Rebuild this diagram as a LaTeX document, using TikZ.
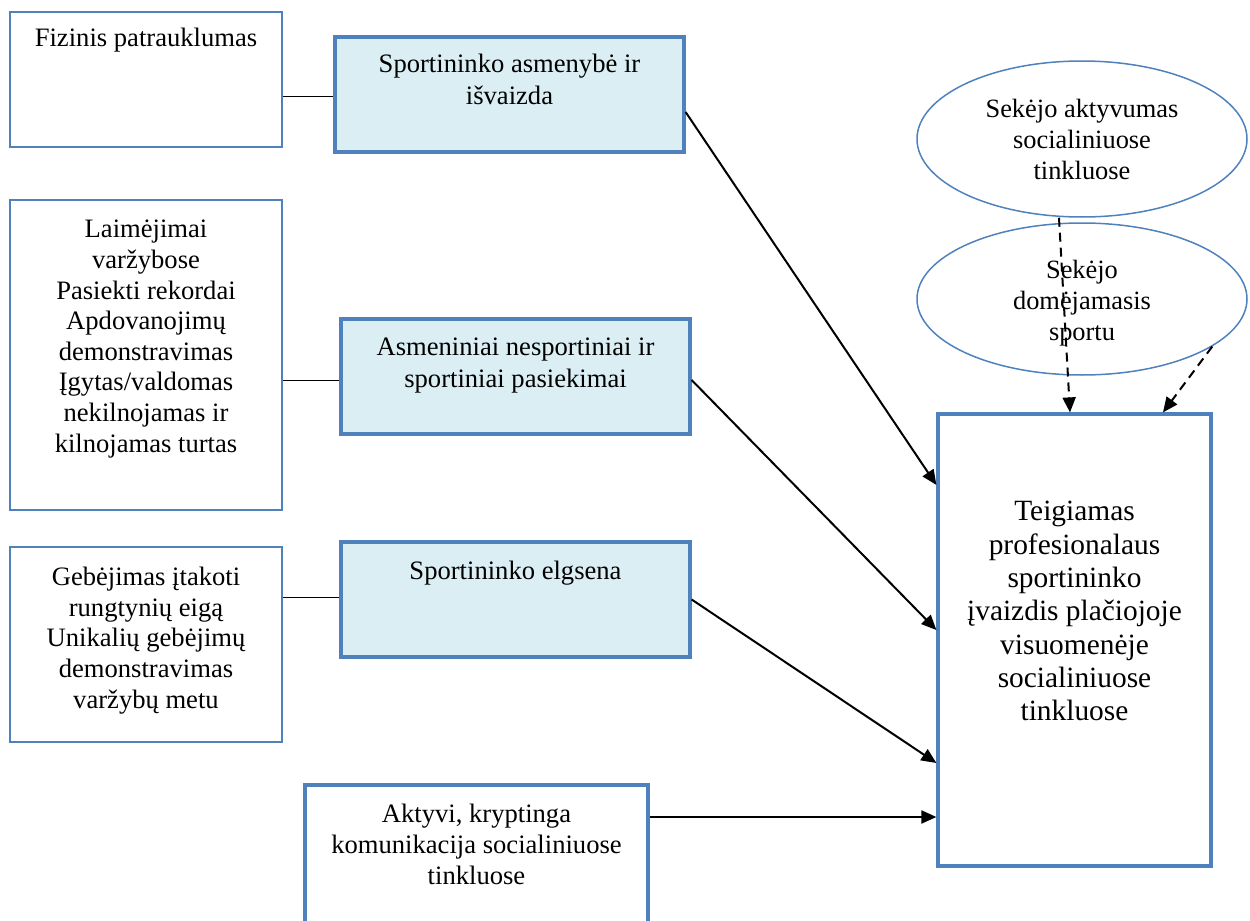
\documentclass[tikz,border=0pt]{standalone}
\usepackage{fontspec}
\setmainfont{Liberation Serif}
\usepackage{tikz}
\usetikzlibrary{positioning,arrows.meta,shapes.geometric}
\definecolor{boxblue}{HTML}{4F81BD}
\definecolor{boxfill}{HTML}{DAEEF3}
\tikzset{
  factor/.style={draw=boxblue, line width=0.75pt, minimum width=136pt},
  group/.style={draw=boxblue, fill=boxfill, line width=1.6pt,
    minimum width=174.5pt, minimum height=57.5pt},
  result/.style={draw=boxblue, line width=1.6pt},
  fan/.style={ellipse, draw=boxblue, line width=0.75pt, minimum width=165pt,
    inner sep=0pt, align=center, font=\fontsize{13.2}{15.5}\selectfont},
  fantext/.style={inner sep=0pt, align=center, font=\fontsize{13.2}{15.5}\selectfont},
  intext/.style={anchor=north, inner sep=0pt, align=center,
    execute at begin node=\strut},
  small/.style={intext, font=\fontsize{13.3}{15.3}\selectfont},
  mid/.style={intext, font=\fontsize{13.3}{15.8}\selectfont},
  big/.style={intext, font=\fontsize{14.7}{16.65}\selectfont},
  link/.style={line width=0.8pt},
  arr/.style={line width=1pt, -{Triangle[length=7.5pt,width=6.5pt]}},
  dasharr/.style={arr, dash pattern=on 4.5pt off 3pt}
}

\begin{document}
\begin{tikzpicture}
  \useasboundingbox (0,0) rectangle (625pt,-460.5pt);

  % left column: the separate factors
  \node[factor, minimum height=67.5pt] (fizinis) at (73pt,-39.75pt) {};
  \node[factor, minimum height=155pt, on grid, below=137.75pt of fizinis] (laimejimai) {};
  \node[factor, minimum height=97.5pt] (gebejimai) at (73pt,-322.25pt) {};
  \node[small, below=6.8pt of fizinis.north] (fizinisT) {Fizinis patrauklumas};
  \node[small, below=10.3pt of laimejimai.north] (laimejimaiT)
    {Laimėjimai\\varžybose\\Pasiekti rekordai\\Apdovanojimų\\demonstravimas\\
     Įgytas/valdomas\\nekilnojamas ir\\kilnojamas turtas};
  \node[small, below=10.3pt of gebejimai.north] (gebejimaiT)
    {Gebėjimas įtakoti\\rungtynių eigą\\Unikalių gebėjimų\\demonstravimas\\varžybų metu};

  % middle column: the groups
  \node[group] (asmenybe) at (254.75pt,-47.25pt) {};
  \node[group] (pasiekimai) at (257.75pt,-188.25pt) {};
  \node[group, on grid, below=111.5pt of pasiekimai] (elgsena) {};
  \node[result, minimum width=171.5pt, minimum height=77.5pt] (komunikacija) at (238.25pt,-431.25pt) {};
  \node[mid, below=9.3pt of asmenybe.north] (asmenybeT) {Sportininko asmenybė ir\\išvaizda};
  \node[mid, below=10pt of pasiekimai.north] (pasiekimaiT) {Asmeniniai nesportiniai ir\\sportiniai pasiekimai};
  \node[mid, below=8.3pt of elgsena.north] (elgsenaT) {Sportininko elgsena};
  \node[small, below=10.3pt of komunikacija.north] (komunikacijaT)
    {Aktyvi, kryptinga\\komunikacija socialiniuose\\tinkluose};

  % right column: followers and the image
  \node[result, minimum width=136.5pt, minimum height=226pt] (image) at (537.25pt,-320pt) {};
  \node[big, below=44.3pt of image.north] (imageT)
    {Teigiamas\\profesionalaus\\sportininko\\įvaizdis plačiojoje\\visuomenėje\\socialiniuose\\tinkluose};
  \node[fan, minimum height=78pt] (aktyvumas) at (541pt,-69.5pt) {Sekėjo aktyvumas\\socialiniuose\\tinkluose};
  \node[fan, minimum height=76pt, on grid, below=80pt of aktyvumas] (domejimasis) {};
  \node[fantext] (domejimasisT) at ([yshift=-2pt]domejimasis.center) {Sekėjo\\domėjamasis\\sportu};

  % plain links
  \draw[link] ([yshift=-1pt]asmenybe.west -| fizinis.east) -- ([yshift=-1pt]asmenybe.west);
  \draw[link] ([yshift=-2pt]pasiekimai.west -| laimejimai.east) -- ([yshift=-2pt]pasiekimai.west);
  \draw[link] ([yshift=1pt]elgsena.west -| gebejimai.east) -- ([yshift=1pt]elgsena.west);

  % arrows into the image
  \draw[arr] ([yshift=-8.75pt]asmenybe.east) -- ([yshift=77.5pt]image.west);
  \draw[arr] ([yshift=-1.75pt]pasiekimai.east) -- ([yshift=5pt]image.west);
  \draw[arr] (elgsena.east) -- ([yshift=-61.5pt]image.west);
  \coordinate (commIn) at ([yshift=-88.5pt]image.west);
  \draw[arr] (commIn -| komunikacija.east) -- (commIn);

  % dashed influence of the followers
  \draw[dasharr] ([xshift=-11.5pt]aktyvumas.south) -- ([xshift=-2.25pt]image.north);
  \draw[dasharr] (domejimasis.-20) -- ([xshift=44.25pt]image.north);
\end{tikzpicture}
\end{document}
